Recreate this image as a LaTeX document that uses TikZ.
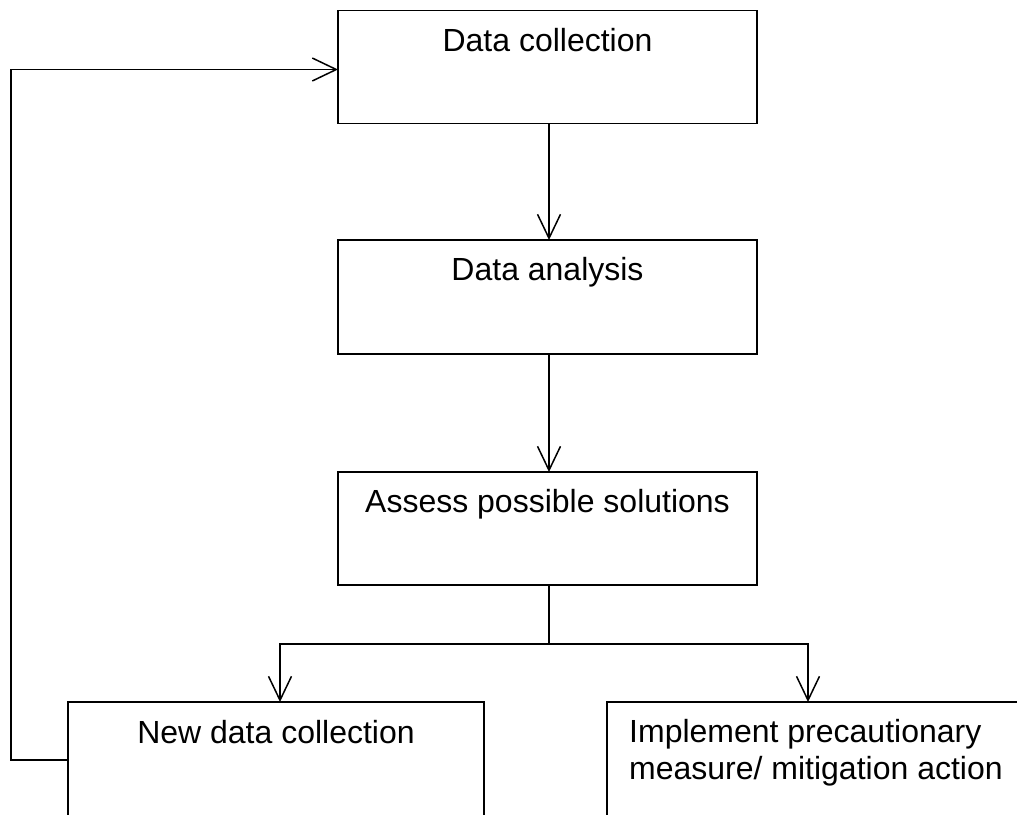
\documentclass[tikz,border=0pt]{standalone}
\usepackage{fontspec}
\setmainfont{Liberation Sans}
\usetikzlibrary{arrows.meta}
\begin{document}
\begin{tikzpicture}[x=1pt,y=-1pt,
  box/.style={draw, line width=1.8pt, rectangle, inner sep=0pt, outer sep=0pt},
  lbl/.style={inner sep=0pt, font=\fontsize{32}{37}\selectfont},
  conn/.style={line width=1.5pt},
  arr/.style={conn, -{Straight Barb[length=24pt,width=23pt,line width=1.5pt]}}]
\useasboundingbox (0,0) rectangle (1017,814);
\clip (0,0) rectangle (1017,814);
\fill[white] (0,0) rectangle (1017,814);
% boxes
\node[box, minimum width=419pt, minimum height=113pt] (b1) at (547.5,67) {};
\node[box, minimum width=419pt, minimum height=114pt] (b2) at (547.5,297) {};
\node[box, minimum width=419pt, minimum height=113pt] (b3) at (547.5,528.5) {};
\node[box, minimum width=416pt, minimum height=114pt] (b4) at (276,759) {};
\node[box, minimum width=419pt, minimum height=114pt] (b5) at (816.5,759) {};
% labels
\node[lbl, anchor=base] (t1) at ([yshift=-41pt]b1.north) {Data collection};
\node[lbl, anchor=base] (t2) at ([yshift=-40pt]b2.north) {Data analysis};
\node[lbl, anchor=base] (t3) at ([yshift=-40pt]b3.north) {Assess possible solutions};
\node[lbl, anchor=base] (t4) at ([yshift=-41pt]b4.north) {New data collection};
\node[lbl, anchor=base west, align=left] (t5) at ([xshift=22pt,yshift=-77pt]b5.north west) {Implement precautionary\\measure/ mitigation action};
% connectors
\coordinate (j) at (549,644);
\coordinate (l4) at ([xshift=4pt]b4.north);
\coordinate (l5) at ([xshift=-8.5pt]b5.north);
\coordinate (fb) at ([yshift=-58pt]b4.north west);
\coordinate (fbl) at (11,760);
\coordinate (t1in) at ([yshift=-59pt]b1.north west);
\draw[arr] ([xshift=1.5pt]b1.south) -- ([xshift=1.5pt]b2.north);
\draw[arr] ([xshift=1.5pt]b2.south) -- ([xshift=1.5pt]b3.north);
\draw[conn] ([xshift=1.5pt]b3.south) -- (j);
\draw[arr] (j) -| (l4);
\draw[arr] (j) -| (l5);
\draw[arr] (fb) -- (fbl) |- (t1in);
\end{tikzpicture}
\end{document}
